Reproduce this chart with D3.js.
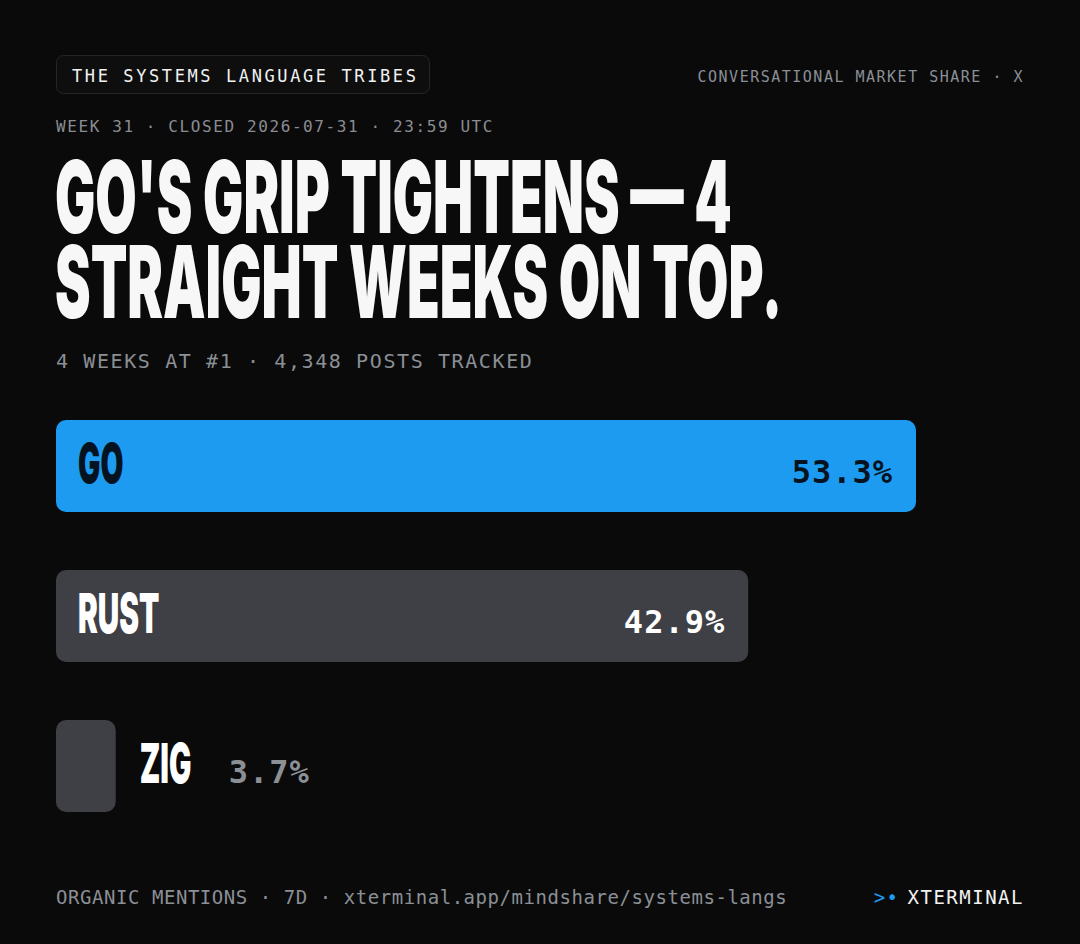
<!DOCTYPE html>
<html>
<head>
<meta charset="utf-8">
<script src="https://cdn.jsdelivr.net/npm/d3@7"></script>
<style>
  html, body { margin: 0; padding: 0; background: #0a0a0a; }
  svg { display: block; }
</style>
</head>
<body>
<div id="chart"></div>
<script>
// chart data
const languages = ["GO", "RUST", "ZIG"];
const shares = [53.3, 42.9, 3.7];
const headline = ["GO'S GRIP TIGHTENS — 4", "STRAIGHT WEEKS ON TOP."];
const kicker = "THE SYSTEMS LANGUAGE TRIBES";
const topRight = "CONVERSATIONAL MARKET SHARE · X";
const dateline = "WEEK 31 · CLOSED 2026-07-31 · 23:59 UTC";
const subline = "4 WEEKS AT #1 · 4,348 POSTS TRACKED";
const footer = "ORGANIC MENTIONS · 7D · xterminal.app/mindshare/systems-langs";
const brand = "XTERMINAL";

const width = 1080, height = 944;
const MONO = "'DejaVu Sans Mono', 'Liberation Mono', monospace";
const COND = "Inter, Roboto, sans-serif";

const svg = d3.select("#chart").append("svg")
    .attr("width", width).attr("height", height);

svg.append("rect").attr("width", width).attr("height", height).attr("fill", "#0a0a0a");

// condensed display text (no condensed face installed, so squeeze a heavy one)
function cond(g, x, y, size, fill, squeeze) {
    return g.append("text")
        .attr("transform", `translate(${x},${y}) scale(${squeeze},1)`)
        .attr("font-family", COND)
        .attr("font-weight", 900)
        .attr("font-size", size)
        .attr("fill", fill);
}

// kicker box
svg.append("rect")
    .attr("x", 56.5).attr("y", 55.5).attr("width", 373).attr("height", 38)
    .attr("rx", 7).attr("fill", "#0e0e0e").attr("stroke", "#262626");
svg.append("text")
    .attr("x", 72).attr("y", 82)
    .attr("font-family", MONO).attr("font-size", 17).attr("letter-spacing", 2.6)
    .attr("fill", "#f2f2f2").text(kicker);

svg.append("text")
    .attr("x", 1024).attr("y", 82).attr("text-anchor", "end")
    .attr("font-family", MONO).attr("font-size", 15).attr("letter-spacing", 1.5)
    .attr("fill", "#8b8f96").text(topRight);

svg.append("text")
    .attr("x", 56).attr("y", 132)
    .attr("font-family", MONO).attr("font-size", 16).attr("letter-spacing", 1.6)
    .attr("fill", "#8a8d93").text(dateline);

// headline, one text block with a line per tspan
const h = cond(svg, 55, 233, 100, "#f7f7f7", 0.535);
h.selectAll("tspan").data(headline).join("tspan")
    .attr("x", 0)
    .attr("dy", (d, i) => i ? 85 : 0)
    .text(d => d);

svg.append("text")
    .attr("x", 56).attr("y", 368)
    .attr("font-family", MONO).attr("font-size", 20).attr("letter-spacing", 1.6)
    .attr("fill", "#8b8f96").text(subline);

// bars
const x = d3.scaleLinear().domain([0, d3.max(shares)]).range([0, 860]);
const y = d3.scaleBand().domain(languages).range([420, 812]).paddingInner(0.3867).paddingOuter(0);

const data = languages.map((name, i) => ({ name, share: shares[i], lead: i === 0 }));

const rows = svg.append("g").selectAll("g").data(data).join("g")
    .attr("transform", d => `translate(56,${y(d.name)})`);

rows.append("rect")
    .attr("width", d => x(d.share))
    .attr("height", y.bandwidth())
    .attr("rx", 10)
    .attr("fill", d => d.lead ? "#1d9bf0" : "#3f4045");

rows.each(function (d) {
    const g = d3.select(this);
    const w = x(d.share);
    const base = y.bandwidth() / 2 + 17;
    const inside = w > 200;
    const ink = d.lead ? "#04131f" : "#ffffff";
    const lx = inside ? 22 : w + 24;
    cond(g, lx, base, 55, inside ? ink : "#ffffff", 0.54).text(d.name);
    g.append("text")
        .attr("x", inside ? w - 23 : w + 113)
        .attr("y", base)
        .attr("text-anchor", inside ? "end" : "start")
        .attr("font-family", MONO).attr("font-weight", 700)
        .attr("font-size", 32).attr("letter-spacing", 1)
        .attr("fill", inside ? ink : "#8b8f96")
        .text(d.share.toFixed(1) + "%");
});

// footer
svg.append("text")
    .attr("x", 56).attr("y", 904)
    .attr("font-family", MONO).attr("font-size", 19).attr("letter-spacing", 0.55)
    .attr("fill", "#8b8f96").text(footer);

const b = svg.append("text")
    .attr("x", 1024).attr("y", 904).attr("text-anchor", "end")
    .attr("font-family", MONO).attr("font-size", 19).attr("letter-spacing", 1.5);
b.append("tspan").attr("fill", "#1d9bf0").text(">•");
b.append("tspan").attr("dx", 8).attr("fill", "#f2f2f2").text(brand);
</script>
</body>
</html>
